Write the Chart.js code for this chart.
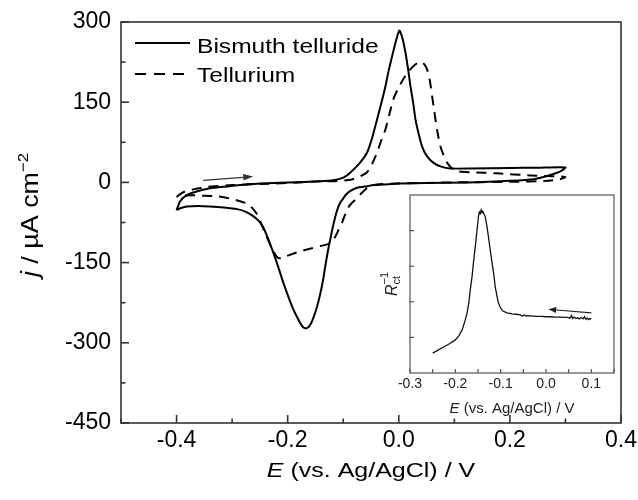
<!DOCTYPE html>
<html><head><meta charset="utf-8">
<script src="https://cdn.jsdelivr.net/npm/chart.js@4.4.1/dist/chart.umd.min.js"></script>
<style>
html,body{margin:0;padding:0;background:#fff;}
#wrap{position:relative;width:638px;height:500px;background:#fff;}
#main{position:absolute;left:0;top:0;}
#inset{position:absolute;left:370px;top:185px;}
</style></head><body>
<div id="wrap"><canvas id="main" width="638" height="500"></canvas><canvas id="inset" width="255" height="235"></canvas></div>
<script>
// ---------- main chart data ----------
const seriesNames = ["Bismuth telluride", "Tellurium"];
const biE = [-0.400,-0.394,-0.385,-0.370,-0.340,-0.309,-0.280,-0.250,-0.200,-0.141,-0.118,-0.100,-0.087,-0.072,-0.057,-0.048,-0.039,-0.031,-0.024,-0.018,-0.012,-0.005,0.001,0.006,0.012,0.017,0.021,0.026,0.030,0.036,0.042,0.050,0.062,0.075,0.093,0.130,0.200,0.250,0.300,0.290,0.270,0.243,0.200,0.125,0.050,0.000,-0.028,-0.045,-0.057,-0.075,-0.087,-0.096,-0.100,-0.105,-0.111,-0.118,-0.123,-0.127,-0.132,-0.136,-0.141,-0.147,-0.153,-0.158,-0.163,-0.168,-0.173,-0.178,-0.184,-0.190,-0.199,-0.208,-0.217,-0.226,-0.235,-0.244,-0.253,-0.262,-0.275,-0.291,-0.315,-0.340,-0.360,-0.381,-0.392,-0.400];
const biJ = [-52,-36,-26,-19,-11,-7.5,-4.5,-2,0,2,4,9,18.7,34,56,83,118,150,180,210,236,265,284,272,243,210,180,148,118,90,67,50,37,30,26,26,27,27.5,28,20,13,6,3,0,-1,-2,-4,-5,-7,-10,-16,-24,-30,-37,-52,-80,-105,-125,-155,-181,-207,-232,-251,-264,-271,-273,-270,-262,-250,-237,-213,-187,-158,-131,-106,-84,-71,-63,-55,-50,-47,-45,-44,-45,-48,-52];
const teE = [-0.400,-0.392,-0.385,-0.370,-0.350,-0.300,-0.250,-0.200,-0.140,-0.118,-0.087,-0.072,-0.057,-0.048,-0.039,-0.032,-0.024,-0.017,-0.010,-0.001,0.008,0.017,0.026,0.033,0.039,0.045,0.051,0.056,0.060,0.063,0.066,0.070,0.075,0.081,0.087,0.095,0.105,0.129,0.177,0.237,0.290,0.300,0.290,0.270,0.200,0.100,0.000,-0.040,-0.055,-0.062,-0.069,-0.078,-0.085,-0.091,-0.097,-0.102,-0.108,-0.114,-0.120,-0.129,-0.141,-0.160,-0.178,-0.195,-0.205,-0.212,-0.218,-0.225,-0.232,-0.240,-0.248,-0.255,-0.262,-0.272,-0.286,-0.305,-0.327,-0.350,-0.370,-0.390,-0.400];
const teJ = [-27,-21,-17,-13,-9,-5,-3,-1,2,2,5,10,19,35,56,77,99,127,155,176,193,207,217,223,226,222,211,190,161,140,118,92,67,50,37,27,21,19,17,13,11,10,6,3,1,0,-2,-4,-9,-15,-22,-32,-39,-47,-61,-75,-88,-101,-110,-116,-119,-124,-129,-135,-139,-142,-141,-130,-115,-96,-76,-60,-50,-40,-35,-30,-26,-25,-24,-25,-27];
const xTicks = [-0.4,-0.2,0.0,0.2,0.4];
const xMinorTicks = [-0.5,-0.3,-0.1,0.1,0.3];
const yTicks = [-450,-300,-150,0,150,300];
const yMinorTicks = [-375,-225,-75,75,225];
const mainArrow = [[-0.352,3.7],[-0.262,11]];
// ---------- inset data ----------
const inE = [-0.250,-0.240,-0.226,-0.213,-0.200,-0.192,-0.185,-0.179,-0.174,-0.170,-0.167,-0.163,-0.160,-0.156,-0.152,-0.149,-0.147,-0.145,-0.143,-0.141,-0.139,-0.134,-0.130,-0.127,-0.123,-0.119,-0.115,-0.112,-0.108,-0.105,-0.100,-0.095,-0.086,-0.075,-0.065,-0.057,-0.052,-0.048,-0.044,-0.040,-0.030,-0.020,-0.010,0.000,0.010,0.020,0.030,0.040,0.048,0.053,0.056,0.059,0.062,0.066,0.070,0.074,0.078,0.082,0.085,0.088,0.091,0.094,0.097,0.100];
const inR = [0.56,0.63,0.73,0.82,0.93,1.05,1.21,1.45,1.69,2.00,2.34,2.72,3.10,3.55,4.03,4.39,4.52,4.48,4.58,4.50,4.52,4.39,4.10,3.83,3.45,3.10,2.75,2.42,2.15,1.97,1.82,1.74,1.69,1.66,1.65,1.63,1.60,1.63,1.60,1.61,1.60,1.59,1.59,1.58,1.58,1.57,1.57,1.56,1.56,1.54,1.62,1.53,1.57,1.53,1.55,1.52,1.56,1.52,1.58,1.51,1.54,1.50,1.53,1.52];
const inXTicks = [-0.3,-0.2,-0.1,0.0,0.1];
const inXMinorTicks = [-0.25,-0.15,-0.05,0.05,0.15];
const inYTicks = [1,2,3,4];
const insetArrow = [[0.100,1.69],[0.005,1.79]];

const FONT = "'Liberation Sans', Arial, Helvetica, sans-serif";

function drawRich(ctx, parts, x, y, align) {
  let total = 0, prevStart = 0; const pos = [];
  parts.forEach(p => {
    ctx.font = (p.italic ? 'italic ' : '') + p.size + 'px ' + FONT;
    const w = ctx.measureText(p.t).width;
    if (p.stack) { pos.push(prevStart); total = Math.max(total, prevStart + w); }
    else { pos.push(total); prevStart = total; total += w; }
  });
  const start = align === 'center' ? x - total / 2 : x;
  parts.forEach((p, i) => {
    ctx.font = (p.italic ? 'italic ' : '') + p.size + 'px ' + FONT;
    ctx.fillText(p.t, start + pos[i], y + (p.dy || 0));
  });
}
function arrow(ctx, x1, y1, x2, y2, hl, hw) {
  const a = Math.atan2(y2 - y1, x2 - x1);
  const bx = x2 - hl * Math.cos(a), by = y2 - hl * Math.sin(a);
  ctx.beginPath(); ctx.moveTo(x1, y1); ctx.lineTo(bx, by); ctx.stroke();
  ctx.beginPath(); ctx.moveTo(x2, y2);
  ctx.lineTo(bx + hw * Math.sin(a), by - hw * Math.cos(a));
  ctx.lineTo(bx - hw * Math.sin(a), by + hw * Math.cos(a));
  ctx.closePath(); ctx.fill();
}
function marks(ctx, sc, vals, len, area, horiz) {
  vals.forEach(v => {
    const p = sc.getPixelForValue(v);
    ctx.beginPath();
    if (horiz) { ctx.moveTo(p, area.bottom); ctx.lineTo(p, area.bottom - len); }
    else { ctx.moveTo(area.left, p); ctx.lineTo(area.left + len, p); }
    ctx.stroke();
  });
}
const zeroPad = s => { s.paddingLeft = 0; s.paddingRight = 0; s.paddingTop = 0; s.paddingBottom = 0; };

const mainDecor = {
  id: 'mainDecor',
  afterDraw(chart) {
    const { ctx, chartArea: a, scales: { x, y } } = chart;
    ctx.save();
    ctx.strokeStyle = '#333'; ctx.lineWidth = 1.6;
    ctx.strokeRect(a.left, a.top, a.right - a.left, a.bottom - a.top);
    marks(ctx, x, xTicks, 8, a, true);
    marks(ctx, x, xMinorTicks, 4.5, a, true);
    marks(ctx, y, yTicks, 8, a, false);
    marks(ctx, y, yMinorTicks, 4.5, a, false);
    // arrow
    ctx.strokeStyle = '#333'; ctx.fillStyle = '#333'; ctx.lineWidth = 1.2;
    arrow(ctx, x.getPixelForValue(mainArrow[0][0]), y.getPixelForValue(mainArrow[0][1]),
      x.getPixelForValue(mainArrow[1][0]), y.getPixelForValue(mainArrow[1][1]), 10, 3.2);
    // legend
    ctx.strokeStyle = '#000'; ctx.lineWidth = 2;
    ctx.beginPath(); ctx.moveTo(a.left + 14, a.top + 21); ctx.lineTo(a.left + 69, a.top + 21); ctx.stroke();
    ctx.setLineDash([11, 8]);
    ctx.beginPath(); ctx.moveTo(a.left + 14, a.top + 52); ctx.lineTo(a.left + 69, a.top + 52); ctx.stroke();
    ctx.setLineDash([]);
    ctx.fillStyle = '#000'; ctx.textBaseline = 'alphabetic'; ctx.textAlign = 'left';
    [[seriesNames[0], a.top + 30.5], [seriesNames[1], a.top + 60]].forEach(([t, by]) => {
      ctx.save(); ctx.translate(a.left + 76, by); ctx.scale(1.17, 1);
      ctx.font = '21px ' + FONT; ctx.fillText(t, 0, 0); ctx.restore();
    });
    // x title
    ctx.save(); ctx.translate((a.left + a.right) / 2, 477); ctx.scale(1.25, 1);
    drawRich(ctx, [{ t: 'E', italic: true, size: 20 }, { t: ' (vs. Ag/AgCl) / V', size: 20 }], 0, 0, 'center');
    ctx.restore();
    // y title
    ctx.save(); ctx.translate(38, 215); ctx.rotate(-Math.PI / 2); ctx.scale(1.12, 1);
    drawRich(ctx, [{ t: 'j', italic: true, size: 24 }, { t: ' / \u00b5A cm', size: 24 }, { t: '\u22122', size: 15, dy: -10 }], 0, 0, 'center');
    ctx.restore();
    ctx.restore();
  }
};

const insetDecor = {
  id: 'insetDecor',
  afterDraw(chart) {
    const { ctx, chartArea: a, scales: { x, y } } = chart;
    ctx.save();
    ctx.strokeStyle = '#555'; ctx.lineWidth = 1.2;
    ctx.strokeRect(a.left, a.top, a.right - a.left, a.bottom - a.top);
    marks(ctx, x, inXTicks, 4, a, true);
    marks(ctx, x, inXMinorTicks, 4, a, true);
    marks(ctx, y, inYTicks, 4, a, false);
    ctx.strokeStyle = '#222'; ctx.fillStyle = '#222'; ctx.lineWidth = 1.1;
    arrow(ctx, x.getPixelForValue(insetArrow[0][0]), y.getPixelForValue(insetArrow[0][1]),
      x.getPixelForValue(insetArrow[1][0]), y.getPixelForValue(insetArrow[1][1]), 8, 3);
    ctx.fillStyle = '#222'; ctx.textBaseline = 'alphabetic'; ctx.textAlign = 'left';
    drawRich(ctx, [{ t: 'E', italic: true, size: 15 }, { t: ' (vs. Ag/AgCl) / V', size: 15 }], (a.left + a.right) / 2, 228, 'center');
    ctx.save(); ctx.translate(27, (a.top + a.bottom) / 2); ctx.rotate(-Math.PI / 2);
    drawRich(ctx, [{ t: 'R', italic: true, size: 16 }, { t: 'ct', size: 11, dy: 3 }, { t: '\u22121', size: 11, dy: -9, stack: true }], 0, 0, 'center');
    ctx.restore();
    ctx.restore();
  }
};

const toXY = (xs, ys) => xs.map((v, i) => ({ x: v, y: ys[i] }));

new Chart(document.getElementById('main'), {
  type: 'scatter',
  data: {
    datasets: [
      { label: seriesNames[0], data: toXY(biE, biJ), showLine: true, borderColor: '#000', borderWidth: 2, pointRadius: 0, tension: 0.2, fill: false },
      { label: seriesNames[1], data: toXY(teE, teJ), showLine: true, borderColor: '#000', borderWidth: 2, borderDash: [10, 7], pointRadius: 0, tension: 0.2, fill: false }
    ]
  },
  options: {
    responsive: false, animation: false, devicePixelRatio: 1,
    layout: { padding: { left: 0, top: 22, right: 17, bottom: 0 } },
    plugins: { legend: { display: false }, tooltip: { enabled: false } },
    scales: {
      x: {
        type: 'linear', min: -0.5, max: 0.4,
        afterBuildTicks: s => { s.ticks = xTicks.map(v => ({ value: v })); },
        afterFit: s => { s.height = 77; zeroPad(s); },
        grid: { display: false, drawTicks: false }, border: { display: false },
        ticks: { font: { family: FONT, size: 23 }, color: '#000', padding: 4, maxRotation: 0, autoSkip: false, callback: v => Number(v).toFixed(1) }
      },
      y: {
        type: 'linear', min: -450, max: 300,
        afterBuildTicks: s => { s.ticks = yTicks.map(v => ({ value: v })); },
        afterFit: s => { s.width = 121; zeroPad(s); },
        grid: { display: false, drawTicks: false }, border: { display: false },
        ticks: { font: { family: FONT, size: 23 }, color: '#000', padding: 10, callback: v => String(v) }
      }
    }
  },
  plugins: [mainDecor]
});

new Chart(document.getElementById('inset'), {
  type: 'scatter',
  data: { datasets: [{ data: toXY(inE, inR), showLine: true, borderColor: '#111', borderWidth: 1.3, pointRadius: 0, tension: 0, fill: false }] },
  options: {
    responsive: false, animation: false, devicePixelRatio: 1,
    layout: { padding: { left: 0, top: 10, right: 11, bottom: 0 } },
    plugins: { legend: { display: false }, tooltip: { enabled: false } },
    scales: {
      x: {
        type: 'linear', min: -0.3, max: 0.15,
        afterBuildTicks: s => { s.ticks = inXTicks.map(v => ({ value: v })); },
        afterFit: s => { s.height = 47; zeroPad(s); },
        grid: { display: false, drawTicks: false }, border: { display: false },
        ticks: { font: { family: FONT, size: 14 }, color: '#222', padding: 3, maxRotation: 0, autoSkip: false, callback: v => Number(v).toFixed(1) }
      },
      y: {
        type: 'linear', min: 0, max: 5,
        afterBuildTicks: s => { s.ticks = inYTicks.map(v => ({ value: v })); },
        afterFit: s => { s.width = 40; zeroPad(s); },
        grid: { display: false, drawTicks: false }, border: { display: false },
        ticks: { display: false }
      }
    }
  },
  plugins: [insetDecor]
});
</script>
</body></html>
